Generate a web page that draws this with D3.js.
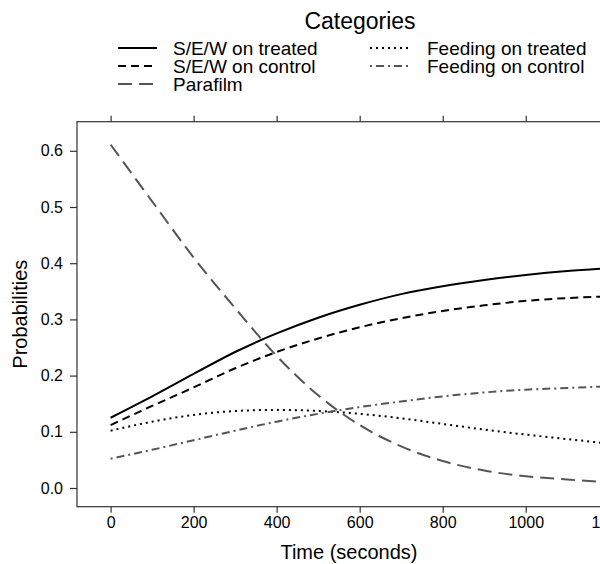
<!DOCTYPE html>
<html>
<head>
<meta charset="utf-8">
<script src="https://cdn.jsdelivr.net/npm/d3@7"></script>
<style>
  body { margin: 0; background: #fff; }
  svg text { font-family: "Liberation Sans", Arial, Helvetica, sans-serif; fill: #000; }
</style>
</head>
<body>
<div id="chart"></div>
<script>
var svgWidth = 600;
var svgHeight = 564;

// data
var times = [0, 100, 200, 300, 400, 500, 600, 700, 800, 900, 1000, 1100, 1200];
var sewTreated = [0.125, 0.163, 0.203, 0.242, 0.275, 0.303, 0.326, 0.345, 0.359, 0.370, 0.379, 0.386, 0.391];
var sewControl = [0.112, 0.146, 0.179, 0.213, 0.242, 0.266, 0.286, 0.302, 0.315, 0.325, 0.333, 0.338, 0.341];
var parafilm = [0.611, 0.510, 0.410, 0.320, 0.235, 0.165, 0.112, 0.074, 0.048, 0.031, 0.021, 0.015, 0.010];
var feedTreated = [0.102, 0.118, 0.130, 0.137, 0.139, 0.137, 0.132, 0.124, 0.114, 0.104, 0.095, 0.087, 0.079];
var feedControl = [0.052, 0.068, 0.085, 0.102, 0.118, 0.132, 0.144, 0.154, 0.163, 0.170, 0.175, 0.178, 0.181];
var xTicks = [0, 200, 400, 600, 800, 1000, 1200];
var yTicks = [0.0, 0.1, 0.2, 0.3, 0.4, 0.5, 0.6];

var series = [
  {name: "S/E/W on treated", values: sewTreated, color: "#000", dash: null, width: 2},
  {name: "S/E/W on control", values: sewControl, color: "#000", dash: "8,5", width: 2},
  {name: "Parafilm", values: parafilm, color: "#555", dash: "14,7", width: 2},
  {name: "Feeding on treated", values: feedTreated, color: "#000", dash: "2,4", width: 2},
  {name: "Feeding on control", values: feedControl, color: "#555", dash: "2,4,8,4", width: 2}
];

var plot = {left: 77, top: 121.7, right: 621, bottom: 506.7};

var svg = d3.select("#chart").append("svg")
  .attr("width", svgWidth)
  .attr("height", svgHeight);

var x = d3.scaleLinear().domain([-81, 1229.5]).range([plot.left, plot.right]);
var y = d3.scaleLinear().domain([-0.0333, 0.6518]).range([plot.bottom, plot.top]);

// box
svg.append("rect")
  .attr("x", plot.left)
  .attr("y", plot.top)
  .attr("width", plot.right - plot.left)
  .attr("height", plot.bottom - plot.top)
  .attr("fill", "none")
  .attr("stroke", "#333")
  .attr("stroke-width", 1.2);

var bottomAxis = d3.axisBottom(x).tickValues(xTicks).tickSize(6).tickPadding(4).tickFormat(d3.format("d"));
var topAxis = d3.axisTop(x).tickValues(xTicks).tickSize(6).tickFormat("");
var leftAxis = d3.axisLeft(y).tickValues(yTicks).tickSize(7).tickPadding(7).tickFormat(d3.format(".1f"));

var gb = svg.append("g").attr("transform", `translate(0, ${plot.bottom})`).call(bottomAxis);
var gt = svg.append("g").attr("transform", `translate(0, ${plot.top})`).call(topAxis);
var gl = svg.append("g").attr("transform", `translate(${plot.left}, 0)`).call(leftAxis);

[gb, gt, gl].forEach(function(g) {
  g.select(".domain").remove();
  g.selectAll(".tick line").attr("stroke", "#333").attr("stroke-width", 1.2);
  g.selectAll(".tick text").style("font-size", "16px").attr("fill", "#000");
});

// lines
var line = d3.line()
  .x(function(d) { return x(d[0]); })
  .y(function(d) { return y(d[1]); })
  .curve(d3.curveMonotoneX);

series.forEach(function(s) {
  var pts = times.map(function(t, i) { return [t, s.values[i]]; });
  svg.append("path")
    .datum(pts)
    .attr("d", line)
    .attr("fill", "none")
    .attr("stroke", s.color)
    .attr("stroke-width", s.width)
    .attr("stroke-dasharray", s.dash);
});

// axis titles
svg.append("text")
  .attr("transform", "translate(27, " + ((plot.top + plot.bottom) / 2) + ") rotate(-90)")
  .attr("text-anchor", "middle")
  .style("font-size", "20px")
  .text("Probabilities");

svg.append("text")
  .attr("x", (plot.left + plot.right) / 2)
  .attr("y", 559)
  .attr("text-anchor", "middle")
  .style("font-size", "20px")
  .text("Time (seconds)");

// legend
svg.append("text")
  .attr("x", 360)
  .attr("y", 29.3)
  .attr("text-anchor", "middle")
  .style("font-size", "23px")
  .text("Categories");

var cols = [{lx: 118, tx: 173}, {lx: 370, tx: 427}];
var rowY = [55, 73, 91];
var keyPos = [[0, 0], [0, 1], [0, 2], [1, 0], [1, 1]];

series.forEach(function(s, i) {
  var c = cols[keyPos[i][0]];
  var by = rowY[keyPos[i][1]];
  svg.append("line")
    .attr("x1", c.lx).attr("x2", c.lx + 39)
    .attr("y1", by - 7).attr("y2", by - 7)
    .attr("stroke", s.color)
    .attr("stroke-width", s.width)
    .attr("stroke-dasharray", s.dash);
  svg.append("text")
    .attr("x", c.tx)
    .attr("y", by)
    .style("font-size", "19px")
    .text(s.name);
});
</script>
</body>
</html>
